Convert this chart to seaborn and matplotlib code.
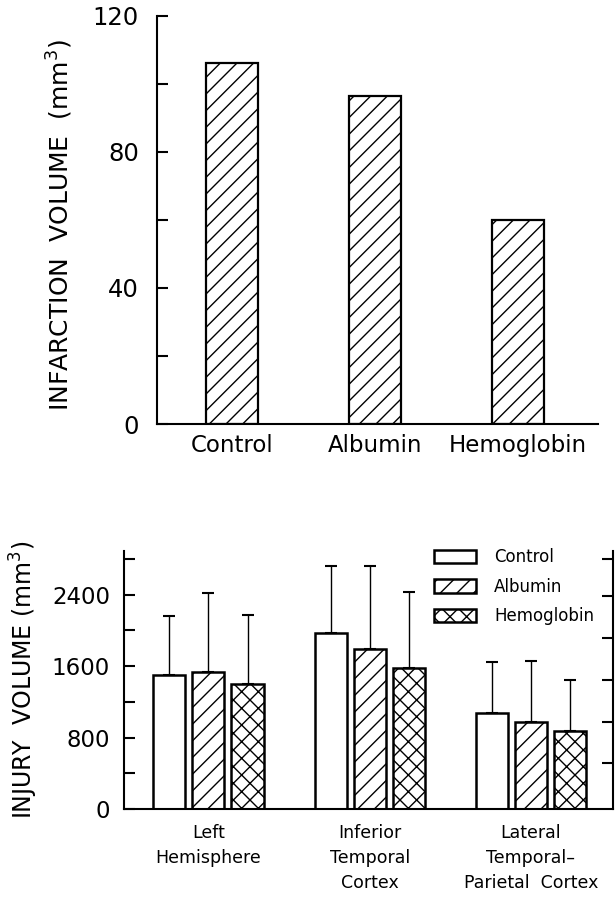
import numpy as np
import pandas as pd
import matplotlib
matplotlib.use("Agg")
import matplotlib.pyplot as plt
import seaborn as sns

# top panel: infarction volume
treatments = ["Control", "Albumin", "Hemoglobin"]
infarct_volume = [106, 96.5, 60]

# bottom panel: injury volume by region, mean and upper SD
regions = ["Left\nHemisphere", "Inferior\nTemporal\nCortex", "Lateral\nTemporal\u2013\nParietal  Cortex"]
injury_control = [1500, 1970, 1070]
injury_albumin = [1530, 1790, 970]
injury_hemoglobin = [1400, 1580, 870]
sd_control = [660, 750, 580]
sd_albumin = [890, 935, 690]
sd_hemoglobin = [775, 850, 580]
hatches = ["", "//", "xx"]

top_ticks = [0, 20, 40, 60, 80, 100, 120]
top_ticklabels = ["0", "", "40", "", "80", "", "120"]
bottom_ticks = [0, 400, 800, 1200, 1600, 2000, 2400, 2800]
bottom_ticklabels = ["0", "", "800", "", "1600", "", "2400", ""]
# ticks of the neighbouring panel's axis, cut off at the right edge
right_ticks = [2800, 2390, 1920, 1450, 980, 520]

sns.set_style("ticks")
plt.rcParams["font.family"] = ["DejaVu Sans"]
plt.rcParams["mathtext.default"] = "regular"
plt.rcParams["hatch.linewidth"] = 1.0
plt.rcParams["hatch.color"] = "black"
for key in ["text.color", "axes.labelcolor", "xtick.color", "ytick.color", "axes.edgecolor"]:
    plt.rcParams[key] = "black"

fig = plt.figure(figsize=(6.15, 8.99), dpi=100)

# ---------- top chart ----------
ax1 = fig.add_axes([157 / 615, 1 - 424 / 899, (598 - 157) / 615, (424 - 15.7) / 899])
sns.barplot(x=treatments, y=infarct_volume, color="white", edgecolor="black",
            linewidth=1.6, width=0.36, saturation=1, ax=ax1)
for bar in ax1.patches:
    bar.set_hatch("//")
ax1.set_xlim(-0.524, 2.56)
ax1.set_ylim(0, 120)
ax1.set_yticks(top_ticks)
ax1.set_yticklabels(top_ticklabels)
ax1.tick_params(axis="y", direction="in", length=8, width=1.5, labelsize=17.5, pad=13)
ax1.tick_params(axis="x", length=0, labelsize=16.5, pad=7)
for side in ["top", "right"]:
    ax1.spines[side].set_visible(False)
for side in ["left", "bottom"]:
    ax1.spines[side].set_linewidth(1.5)
ax1.set_ylabel("INFARCTION  VOLUME  (mm$^3$)", fontsize=18)
ax1.yaxis.set_label_coords(-0.186, 0.487)

# ---------- bottom chart ----------
df = pd.DataFrame({
    "region": regions * 3,
    "treatment": [t for t in treatments for _ in regions],
    "volume": injury_control + injury_albumin + injury_hemoglobin,
})
sds = [sd_control, sd_albumin, sd_hemoglobin]

ax2 = fig.add_axes([124 / 615, 1 - 809 / 899, (613 - 124) / 615, (809 - 551) / 899])
sns.barplot(data=df, x="region", y="volume", hue="treatment", hue_order=treatments,
            palette=["white"] * 3, edgecolor="black", linewidth=1.8, width=0.727,
            gap=0.18, saturation=1, errorbar=None, legend=False, ax=ax2)
for cont, hatch, sd in zip(ax2.containers, hatches, sds):
    xs, ys = [], []
    for bar in cont:
        bar.set_hatch(hatch)
        xs.append(bar.get_x() + bar.get_width() / 2)
        ys.append(bar.get_height())
    ax2.errorbar(xs, ys, yerr=[np.zeros(len(sd)), sd], fmt="none", ecolor="black",
                 elinewidth=1.0, capsize=4.3, capthick=1.5, zorder=1)

ax2.set_xlim(-0.524, 2.51)
ax2.set_ylim(0, 2890)
ax2.set_yticks(bottom_ticks)
ax2.set_yticklabels(bottom_ticklabels)
ax2.tick_params(axis="y", direction="in", length=8, width=1.5, labelsize=16.5, pad=10)
ax2.tick_params(axis="x", length=0, labelsize=12.5, pad=11)
for lab in ax2.get_xticklabels():
    lab.set_linespacing(1.5)
ax2.set_xlabel("")
ax2.set_ylabel("INJURY  VOLUME (mm$^3$)", fontsize=17)
ax2.yaxis.set_label_coords(-0.172, 0.5)
ax2.spines["top"].set_visible(False)
ax2.spines["right"].set_visible(False)
for side in ["left", "bottom"]:
    ax2.spines[side].set_linewidth(1.5)

handles = [cont[0] for cont in ax2.containers]
ax2.legend(handles, treatments, loc="upper left", bbox_to_anchor=(434 / 615, 1 - 548 / 899),
           bbox_transform=fig.transFigure, frameon=False, fontsize=12, borderpad=0,
           borderaxespad=0, handlelength=2.5, handleheight=0.85, handletextpad=1.1,
           labelspacing=0.7)

ax3 = ax2.twinx()
ax3.set_ylim(0, 2890)
ax3.set_yticks(right_ticks)
ax3.set_yticklabels([])
ax3.tick_params(axis="y", direction="in", length=8, width=1.5)
for side in ["top", "left", "bottom"]:
    ax3.spines[side].set_visible(False)
ax3.spines["right"].set_linewidth(1.5)

fig.savefig("out.png", dpi=100)
